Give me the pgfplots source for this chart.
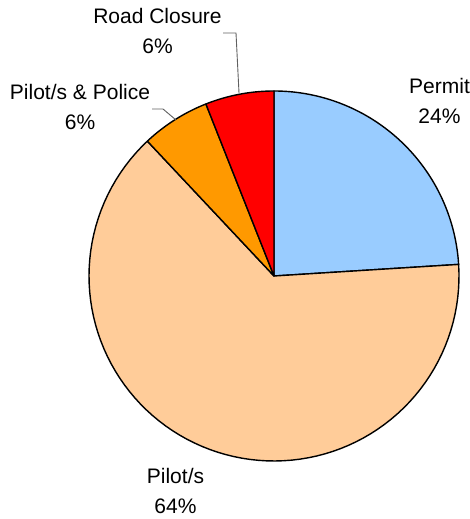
\documentclass[border=0pt]{standalone}
\usepackage{pgfplots}
\pgfplotsset{compat=1.18}
\usepackage{fontspec}
\setmainfont{Liberation Sans}
\definecolor{cPermit}{HTML}{99CCFF}
\definecolor{cPilot}{HTML}{FFCC99}
\definecolor{cPolice}{HTML}{FF9900}
\definecolor{cRoad}{HTML}{FF0000}
\definecolor{leader}{HTML}{606060}
% slice values (percent)
\def\vPermit{24}
\def\vPilot{64}
\def\vPolice{6}
\def\vRoad{6}
\begin{document}
\begin{tikzpicture}
\pgfmathsetmacro{\aA}{90}
\pgfmathsetmacro{\aB}{\aA-3.6*\vPermit}
\pgfmathsetmacro{\aC}{\aB-3.6*\vPilot}
\pgfmathsetmacro{\aD}{\aC-3.6*\vPolice}
\pgfmathsetmacro{\aE}{\aD-3.6*\vRoad}
\begin{axis}[hide axis, x=1bp, y=1bp, xmin=0, xmax=469, ymin=0, ymax=519,
  scale only axis, clip=false, samples=90, variable=\t]
\path (axis cs:0,0) rectangle (axis cs:469,519);
\addplot[fill=cPermit, draw=black, line width=1.4bp, line join=round, domain=\aB:\aA]
  ({274+185*cos(t)},{243+185*sin(t)}) -- (axis cs:274,243) -- cycle;
\addplot[fill=cPilot, draw=black, line width=1.4bp, line join=round, domain=\aC:\aB]
  ({274+185*cos(t)},{243+185*sin(t)}) -- (axis cs:274,243) -- cycle;
\addplot[fill=cPolice, draw=black, line width=1.4bp, line join=round, domain=\aD:\aC]
  ({274+185*cos(t)},{243+185*sin(t)}) -- (axis cs:274,243) -- cycle;
\addplot[fill=cRoad, draw=black, line width=1.4bp, line join=round, domain=\aE:\aD]
  ({274+185*cos(t)},{243+185*sin(t)}) -- (axis cs:274,243) -- cycle;
\addplot[leader, line width=0.9bp, mark=none] coordinates {(223,486) (236,486) (239,426)};
\addplot[leader, line width=0.9bp, mark=none] coordinates {(152,410) (163,410) (176,399)};
\begin{scope}[every node/.style={anchor=base, inner sep=0pt, font=\fontsize{21bp}{24bp}\selectfont}]
\node at (axis cs:157.5,495) {Road Closure};
\node at (axis cs:157.5,465) {6\%};
\node at (axis cs:80,419) {Pilot/s \& Police};
\node at (axis cs:80,389) {6\%};
\node at (axis cs:439.5,425) {Permit};
\node at (axis cs:439.5,395) {24\%};
\node at (axis cs:175.5,35) {Pilot/s};
\node at (axis cs:175.5,5) {64\%};
\end{scope}
\end{axis}
\end{tikzpicture}
\end{document}
